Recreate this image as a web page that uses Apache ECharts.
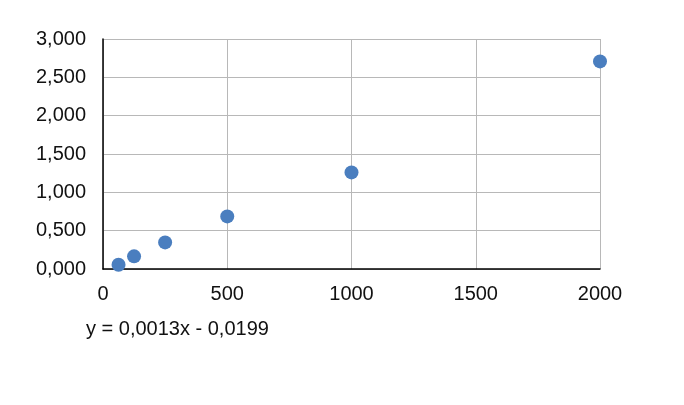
<!DOCTYPE html>
<html>
<head>
<meta charset="utf-8">
<script src="https://cdn.jsdelivr.net/npm/echarts@6/dist/echarts.min.js"></script>
<style>
  html, body { margin: 0; padding: 0; background: #fff; }
  #chart { width: 684px; height: 405px; }
</style>
</head>
<body>
<div id="chart"></div>
<script>
// concentration vs. reading
var xValues = [62.5, 125, 250, 500, 1000, 2000];
var yValues = [0.056, 0.165, 0.347, 0.686, 1.26, 2.708];
var trendLabel = 'y = 0,0013x - 0,0199';

var points = xValues.map(function (x, i) { return [x, yValues[i]]; });

var chart = echarts.init(document.getElementById('chart'));
chart.setOption({
  animation: false,
  grid: { left: 103, top: 39, width: 497, height: 230 },
  xAxis: {
    type: 'value',
    min: 0,
    max: 2000,
    interval: 500,
    axisLine: { show: true, lineStyle: { color: '#000', width: 1.5 } },
    axisTick: { show: false },
    axisLabel: {
      color: '#111', fontSize: 20, fontFamily: 'Liberation Sans', margin: 15,
      formatter: function (v) { return String(v); }
    },
    splitLine: { show: true, lineStyle: { color: '#b8b8b8', width: 1 } }
  },
  yAxis: {
    type: 'value',
    min: 0,
    max: 3,
    interval: 0.5,
    axisLine: { show: true, lineStyle: { color: '#000', width: 1.5 } },
    axisTick: { show: false },
    axisLabel: {
      color: '#111', fontSize: 20, fontFamily: 'Liberation Sans', margin: 17,
      formatter: function (v) { return v.toFixed(3).replace('.', ','); }
    },
    splitLine: { show: true, lineStyle: { color: '#b8b8b8', width: 1 } }
  },
  series: [{
    type: 'scatter',
    data: points,
    symbolSize: 14,
    itemStyle: { color: '#4a7ebf', opacity: 1 }
  }],
  graphic: [{
    type: 'text',
    left: 86,
    top: 319,
    style: { text: trendLabel, fill: '#111', font: '20px "Liberation Sans"' }
  }]
});
</script>
</body>
</html>
